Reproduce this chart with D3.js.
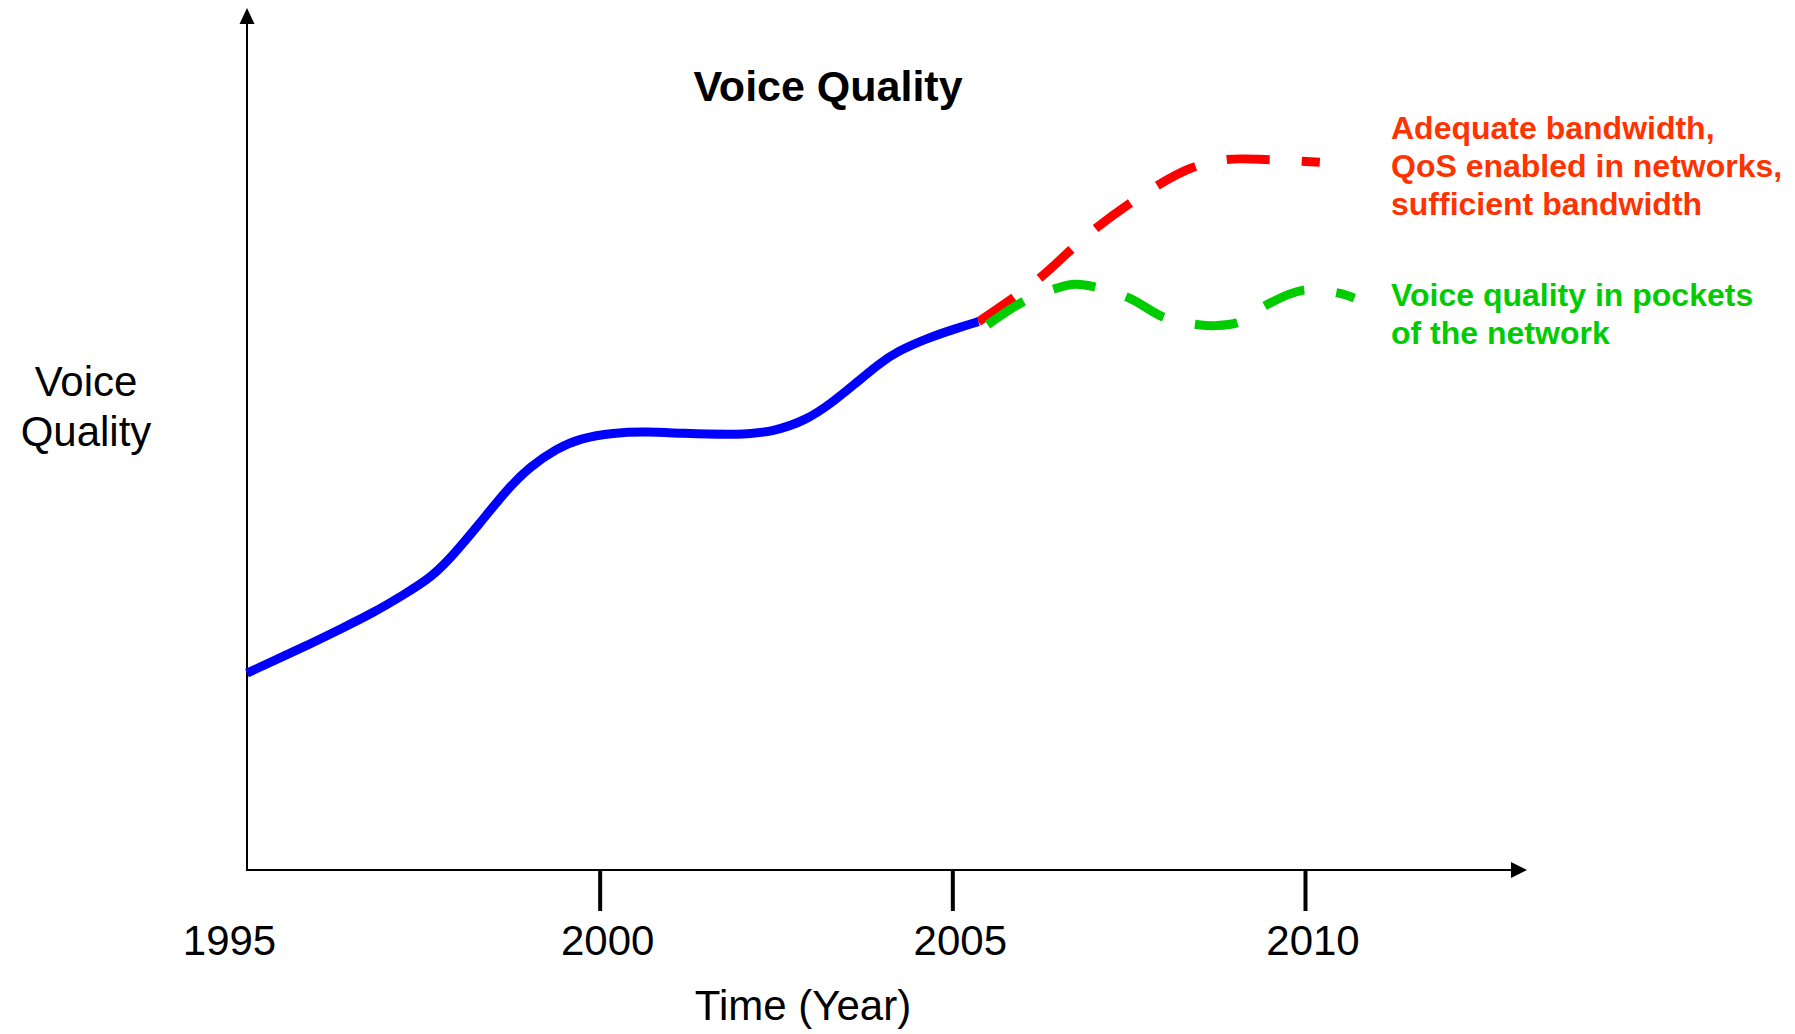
<!DOCTYPE html>
<html>
<head>
<meta charset="utf-8">
<script src="https://cdn.jsdelivr.net/npm/d3@7"></script>
<style>
body { margin: 0; background: #fff; }
text { font-family: "Liberation Sans", Arial, sans-serif; }
</style>
</head>
<body>
<div id="chart"></div>
<script>
// values (quality is on an arbitrary 0-100 scale)
var tickYears = [1995, 2000, 2005, 2010];

var blueYears = [1995.0, 1995.85, 1996.32, 1996.79, 1997.26, 1997.55, 1997.83, 1998.31, 1998.68, 1999.01, 1999.39, 1999.72, 2000.19, 2000.67, 2001.14, 2001.99, 2002.46, 2002.94, 2003.31, 2003.6, 2003.97, 2004.21, 2004.64, 2005.06, 2005.37];
var blueValues = [22.9, 26.1, 28.0, 29.9, 32.2, 33.7, 35.7, 40.4, 44.2, 46.9, 49.0, 50.2, 50.85, 50.97, 50.78, 50.58, 50.97, 52.33, 54.45, 56.4, 58.92, 60.27, 61.83, 62.99, 63.76];

var redYears = [2005.37, 2006.19, 2007.0, 2007.87, 2008.38, 2008.87, 2009.5, 2010.21];
var redValues = [63.76, 68.5, 74.4, 79.4, 81.6, 82.6, 82.6, 82.3];

var greenYears = [2005.5, 2006.05, 2006.46, 2006.74, 2007.07, 2007.51, 2008.02, 2008.49, 2008.73, 2009.06, 2009.45, 2009.96, 2010.46, 2010.7];
var greenValues = [63.4, 66.3, 67.6, 68.1, 67.7, 66.5, 64.2, 63.4, 63.3, 63.7, 65.7, 67.4, 67.1, 66.5];

var redNote = ["Adequate bandwidth,", "QoS enabled in networks,", "sufficient bandwidth"];
var greenNote = ["Voice quality in pockets", "of the network"];

var width = 1795,
height = 1034;

var svg = d3.select("#chart")
.append("svg")
.attr("width", width)
.attr("height", height);

var xScale = d3.scaleLinear()
.domain([1995, 2010])
.range([247, 1305]);

var yScale = d3.scaleLinear()
.domain([0, 100])
.range([870, 10]);

var x0 = xScale(1995),
y0 = yScale(0);

// axes with arrow heads
svg.append("line")
.attr("x1", x0).attr("x2", x0)
.attr("y1", y0 + 1).attr("y2", 22)
.attr("stroke", "black")
.attr("stroke-width", 2);

svg.append("path")
.attr("d", `M${x0},8 L${x0 - 7.5},24 L${x0 + 7.5},24 Z`)
.attr("fill", "black");

svg.append("line")
.attr("x1", x0).attr("x2", 1514)
.attr("y1", y0).attr("y2", y0)
.attr("stroke", "black")
.attr("stroke-width", 2);

svg.append("path")
.attr("d", `M1527,${y0} L1511,${y0 - 8} L1511,${y0 + 8} Z`)
.attr("fill", "black");

var xAxis = d3.axisBottom(xScale)
.tickValues(tickYears)
.tickSize(41)
.tickPadding(14)
.tickFormat(d3.format("d"));

var gx = svg.append("g")
.attr("transform", `translate(0,${y0})`)
.call(xAxis);

gx.select(".domain").remove();
gx.attr("font-size", 42).attr("font-family", null);
gx.selectAll(".tick line")
.attr("stroke-width", 4)
.attr("display", function(d) { return d === 1995 ? "none" : null; });
gx.selectAll(".tick text")
.attr("fill", "black")
.attr("dx", function(d) { return d === 1995 ? -18 : 7.5; });

// curves
var line = d3.line()
.x(function(d) { return xScale(d[0]); })
.y(function(d) { return yScale(d[1]); })
.curve(d3.curveCatmullRom.alpha(0.5));

// blue has many points, smooth it a bit more
var smoothLine = d3.line()
.x(function(d) { return xScale(d[0]); })
.y(function(d) { return yScale(d[1]); })
.curve(d3.curveBasis);

svg.append("path")
.attr("d", line(d3.zip(redYears, redValues)))
.attr("fill", "none")
.attr("stroke", "#ff0000")
.attr("stroke-width", 9)
.attr("stroke-dasharray", "43,32");

svg.append("path")
.attr("d", line(d3.zip(greenYears, greenValues)))
.attr("fill", "none")
.attr("stroke", "#00cc00")
.attr("stroke-width", 9)
.attr("stroke-dasharray", "43,32");

svg.append("path")
.attr("d", smoothLine(d3.zip(blueYears, blueValues)))
.attr("fill", "none")
.attr("stroke", "#0000ff")
.attr("stroke-width", 9);

// titles
svg.append("text")
.text("Voice Quality")
.attr("x", 828)
.attr("y", 101)
.attr("text-anchor", "middle")
.attr("font-size", 43)
.attr("font-weight", "bold");

svg.append("text")
.text("Time (Year)")
.attr("x", 803)
.attr("y", 1020)
.attr("text-anchor", "middle")
.attr("font-size", 42);

svg.selectAll(".ylab")
.data(["Voice", "Quality"])
.enter()
.append("text")
.attr("class", "ylab")
.text(function(d) { return d; })
.attr("x", 86)
.attr("y", function(d, i) { return 396 + i * 50; })
.attr("text-anchor", "middle")
.attr("font-size", 42);

// annotations
svg.selectAll(".rednote")
.data(redNote)
.enter()
.append("text")
.attr("class", "rednote")
.text(function(d) { return d; })
.attr("x", 1391)
.attr("y", function(d, i) { return 138.5 + i * 38; })
.attr("font-size", 32)
.attr("font-weight", "bold")
.attr("fill", "#ff3300");

svg.selectAll(".greennote")
.data(greenNote)
.enter()
.append("text")
.attr("class", "greennote")
.text(function(d) { return d; })
.attr("x", 1391)
.attr("y", function(d, i) { return 306 + i * 38; })
.attr("font-size", 32)
.attr("font-weight", "bold")
.attr("fill", "#00cc00");
</script>
</body>
</html>
